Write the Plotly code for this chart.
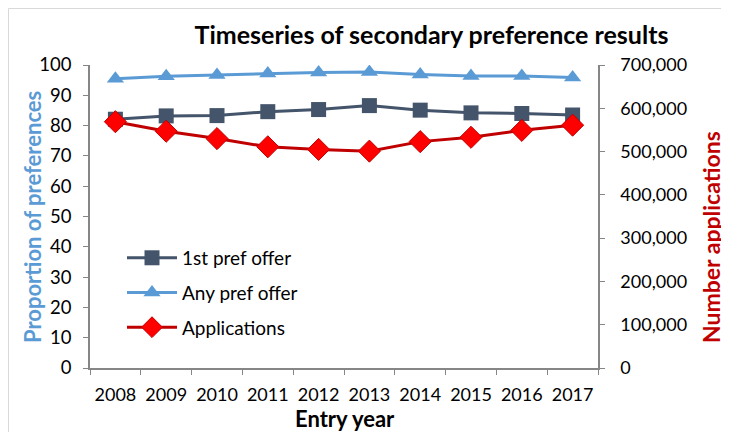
import plotly.graph_objects as go

years = ["2008", "2009", "2010", "2011", "2012", "2013", "2014", "2015", "2016", "2017"]
first_pref = [82.1, 83.2, 83.3, 84.6, 85.3, 86.6, 85.1, 84.2, 84.0, 83.5]
any_pref = [95.5, 96.3, 96.7, 97.2, 97.5, 97.7, 96.9, 96.4, 96.4, 95.9]
applications = [569000, 547000, 530000, 511000, 505000, 501000, 523000, 533000, 549000, 561000]

FONT = "Lato, Carlito, Open Sans, sans-serif"
AX = "#868686"

# plot area in figure pixels (page body adds an 8px offset)
L, R, T, B = 82, 590, 57, 360
PW, PH = R - L, B - T

def px(x):
    return (x - L) / PW

def py(y):
    return (B - y) / PH

fig = go.Figure()
fig.add_trace(go.Scatter(x=years, y=first_pref, name="1st pref offer", mode="lines+markers",
                         line=dict(color="#44546A", width=3),
                         marker=dict(symbol="square", size=15, color="#44546A"),
                         legendgroup="a"))
fig.add_trace(go.Scatter(x=years, y=any_pref, name="Any pref offer", mode="lines+markers",
                         line=dict(color="#5B9BD5", width=3),
                         marker=dict(symbol="triangle-up", size=15, color="#5B9BD5"),
                         legendgroup="b"))
fig.add_trace(go.Scatter(x=years, y=applications, name="Applications", mode="lines+markers",
                         yaxis="y2",
                         line=dict(color="#C00000", width=3),
                         marker=dict(symbol="diamond", size=17, color="#FF0000",
                                     line=dict(color="#C00000", width=1)),
                         legendgroup="c"))

fig.update_layout(
    width=729, height=432,
    margin=dict(l=L, r=729 - R, t=T, b=432 - B, autoexpand=False),
    paper_bgcolor="white", plot_bgcolor="white",
    font=dict(family=FONT, size=18, color="#000000"),
    title=dict(text="<b>Timeseries of secondary preference results</b>",
               x=423.5 / 729, xanchor="center", xref="container",
               y=1 - 27 / 432, yanchor="middle", yref="container",
               font=dict(size=25, family=FONT, color="#000000")),
    xaxis=dict(type="category", range=[-0.5, 9.5], showline=True, linecolor=AX, linewidth=1.5,
               ticks="outside", tickson="boundaries", ticklen=5, tickcolor=AX,
               showgrid=False, zeroline=False, ticklabelstandoff=10, tickangle=0,
               tickfont=dict(size=18)),
    yaxis=dict(range=[0, 100], dtick=10, showline=True, linecolor=AX, linewidth=1.5,
               ticks="outside", ticklen=5, tickcolor=AX, showgrid=False, zeroline=False,
               ticklabelstandoff=8, tickfont=dict(size=18.5)),
    yaxis2=dict(range=[0, 700000], dtick=100000, overlaying="y", side="right",
                showline=True, linecolor=AX, linewidth=1.5, tickformat=",",
                ticks="outside", ticklen=5, tickcolor=AX, showgrid=False, zeroline=False,
                ticklabelstandoff=12, tickfont=dict(size=18)),
    legend=dict(x=0.063, y=0.426, xanchor="left", yanchor="top", bgcolor="rgba(0,0,0,0)",
                font=dict(size=19), tracegroupgap=7, itemwidth=50),
    annotations=[
        dict(text="<b>Proportion of preferences</b>", xref="paper", yref="paper",
             x=px(24), y=py(209), xanchor="center", yanchor="middle", textangle=-90,
             showarrow=False, font=dict(size=22, color="#5B9BD5")),
        dict(text="<b>Number applications</b>", xref="paper", yref="paper",
             x=px(703), y=py(229), xanchor="center", yanchor="middle", textangle=-90,
             showarrow=False, font=dict(size=23, color="#C00000")),
        dict(text="<b>Entry year</b>", xref="paper", yref="paper",
             x=px(337), y=py(410), xanchor="center", yanchor="middle",
             showarrow=False, font=dict(size=22, color="#000000")),
    ],
    shapes=[dict(type="rect", xref="paper", yref="paper",
                 x0=px(0.5), x1=px(715), y0=py(445), y1=py(0.5),
                 line=dict(color="#D9D9D9", width=1), fillcolor="rgba(0,0,0,0)", layer="below")],
)

fig.write_html("out.html")
